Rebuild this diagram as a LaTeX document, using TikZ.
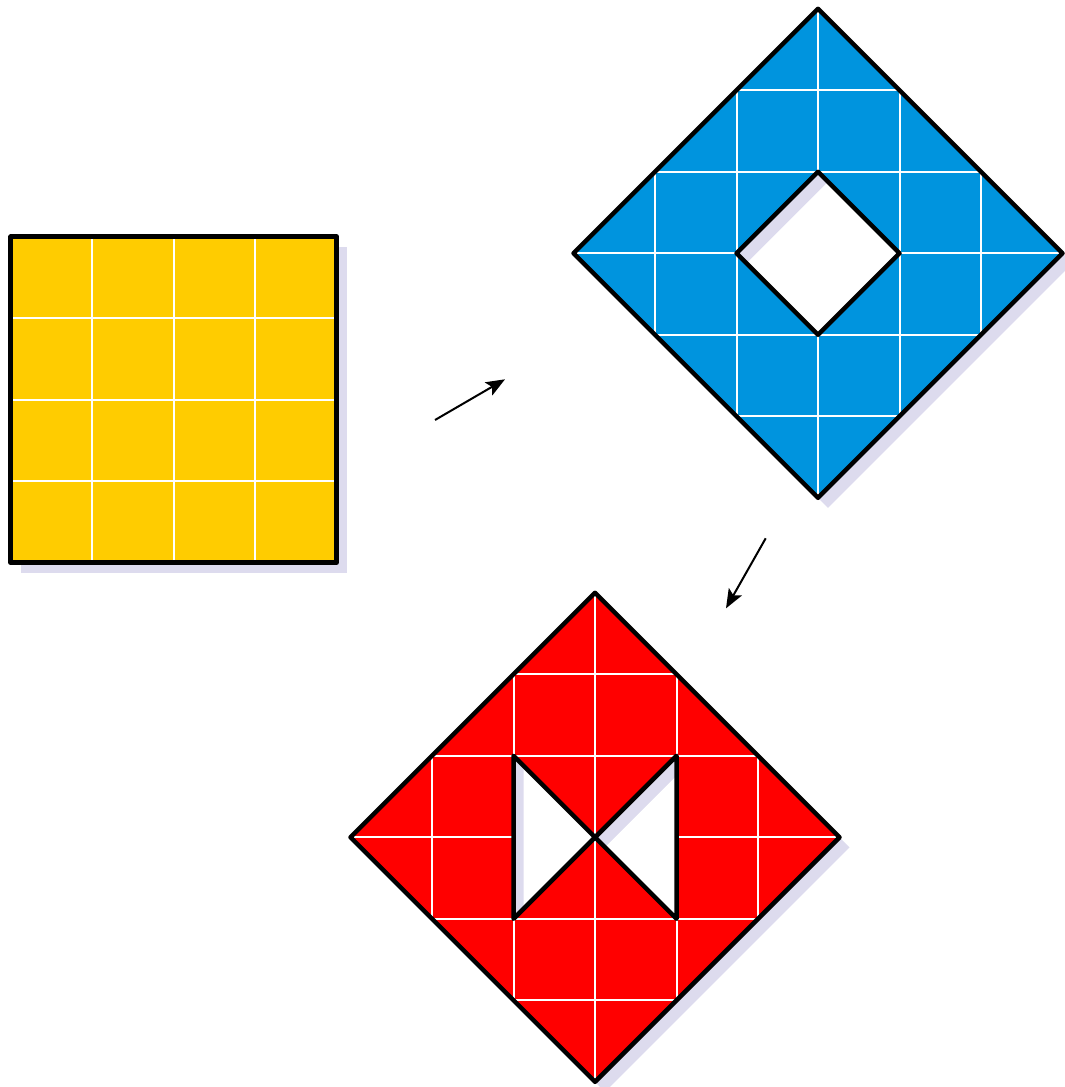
\documentclass[tikz,border=0pt]{standalone}
\usetikzlibrary{arrows.meta}
\definecolor{shadowc}{RGB}{221,219,238}
\definecolor{yel}{RGB}{255,204,0}
\definecolor{blu}{RGB}{0,148,222}
\definecolor{rd}{RGB}{255,0,0}
\tikzset{
  outline/.style={draw=black, line width=4.5pt, line join=round},
  gridline/.style={draw=white, line width=2pt},
  shadowfill/.style={fill=shadowc},
  arrowline/.style={draw=black, line width=2pt, -{Stealth[length=19pt,width=15pt,inset=4pt]}}
}
\begin{document}
\begin{tikzpicture}[x=1pt,y=-1pt]
\useasboundingbox (0,0) rectangle (1065,1087);

% ---------- yellow square ----------
\begin{scope}[shift={(10.7,236.7)}]
  \fill[shadowfill, shift={(10,10)}] (0,0) rectangle (326,326);
  \fill[yel] (0,0) rectangle (326,326);
  \foreach \k in {1,2,3} {
    \draw[gridline] (\k*81.5,0) -- (\k*81.5,326);
    \draw[gridline] (0,\k*81.5) -- (326,\k*81.5);
  }
  \draw[outline] (0,0) rectangle (326,326);
\end{scope}

% ---------- blue diamond ----------
\begin{scope}[shift={(818,253.3)}]
  \fill[shadowfill, even odd rule, shift={(10,10)}]
    (0,-244.5) -- (244.5,0) -- (0,244.5) -- (-244.5,0) -- cycle
    (0,-81.5) -- (81.5,0) -- (0,81.5) -- (-81.5,0) -- cycle;
  \fill[blu] (0,-244.5) -- (244.5,0) -- (0,244.5) -- (-244.5,0) -- cycle;
  \foreach \k in {-2,...,2} {
    \pgfmathsetmacro\hh{(3-abs(\k))*81.5}
    \draw[gridline] (\k*81.5,-\hh) -- (\k*81.5,\hh);
    \draw[gridline] (-\hh,\k*81.5) -- (\hh,\k*81.5);
  }
  \fill[white] (0,-81.5) -- (81.5,0) -- (0,81.5) -- (-81.5,0) -- cycle;
  \begin{scope}
    \clip (0,-81.5) -- (81.5,0) -- (0,81.5) -- (-81.5,0) -- cycle;
    \fill[shadowfill] (-90,-90) rectangle (90,90);
    \fill[white, shift={(10,10)}] (0,-81.5) -- (81.5,0) -- (0,81.5) -- (-81.5,0) -- cycle;
  \end{scope}
  \draw[outline] (0,-244.5) -- (244.5,0) -- (0,244.5) -- (-244.5,0) -- cycle;
  \draw[outline] (0,-81.5) -- (81.5,0) -- (0,81.5) -- (-81.5,0) -- cycle;
\end{scope}

% ---------- red diamond ----------
\begin{scope}[shift={(595,837.3)}]
  \fill[shadowfill, even odd rule, shift={(10,10)}]
    (0,-244.5) -- (244.5,0) -- (0,244.5) -- (-244.5,0) -- cycle
    (-81.5,-81.5) -- (0,0) -- (-81.5,81.5) -- cycle
    (81.5,-81.5) -- (0,0) -- (81.5,81.5) -- cycle;
  \fill[rd] (0,-244.5) -- (244.5,0) -- (0,244.5) -- (-244.5,0) -- cycle;
  \foreach \k in {-2,...,2} {
    \pgfmathsetmacro\hh{(3-abs(\k))*81.5}
    \draw[gridline] (\k*81.5,-\hh) -- (\k*81.5,\hh);
    \draw[gridline] (-\hh,\k*81.5) -- (\hh,\k*81.5);
  }
  \fill[white] (-81.5,-81.5) -- (0,0) -- (-81.5,81.5) -- cycle;
  \fill[white] (81.5,-81.5) -- (0,0) -- (81.5,81.5) -- cycle;
  \begin{scope}
    \clip (-81.5,-81.5) -- (0,0) -- (-81.5,81.5) -- cycle;
    \fill[shadowfill] (-90,-90) rectangle (90,90);
    \fill[white, shift={(10,10)}] (-81.5,-81.5) -- (0,0) -- (-81.5,81.5) -- cycle;
  \end{scope}
  \begin{scope}
    \clip (81.5,-81.5) -- (0,0) -- (81.5,81.5) -- cycle;
    \fill[shadowfill] (-90,-90) rectangle (90,90);
    \fill[white, shift={(10,10)}] (81.5,-81.5) -- (0,0) -- (81.5,81.5) -- cycle;
  \end{scope}
  \draw[outline] (0,-244.5) -- (244.5,0) -- (0,244.5) -- (-244.5,0) -- cycle;
  \draw[outline] (-81.5,-81.5) -- (0,0) -- (-81.5,81.5) -- cycle;
  \draw[outline] (81.5,-81.5) -- (0,0) -- (81.5,81.5) -- cycle;
\end{scope}

% ---------- arrows ----------
\coordinate (a1s) at (435,420);
\coordinate (a1e) at (505,379.3);
\coordinate (a2s) at (765.7,538.3);
\coordinate (a2e) at (726,608.3);
\draw[arrowline] (a1s) -- (a1e);
\draw[arrowline] (a2s) -- (a2e);
\end{tikzpicture}
\end{document}
